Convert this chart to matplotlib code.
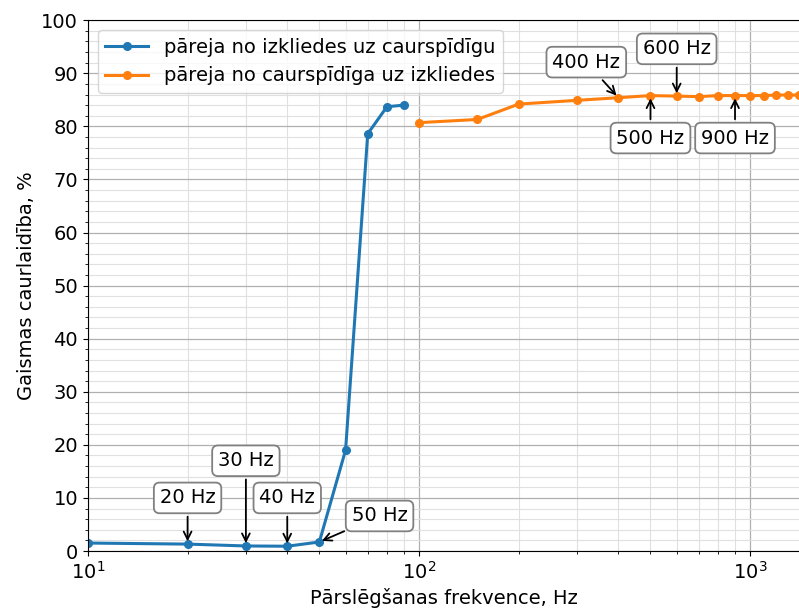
import matplotlib
matplotlib.use("Agg")
import matplotlib.pyplot as plt
from matplotlib.ticker import MultipleLocator

# Data
freq_blue = [10, 20, 30, 40, 50, 60, 70, 80, 90]
trans_blue = [1.5, 1.3, 0.95, 0.9, 1.7, 19.0, 78.6, 83.7, 84.0]
freq_orange = [100, 150, 200, 300, 400, 500, 600, 700, 800, 900, 1000, 1100, 1200, 1300, 1400]
trans_orange = [80.7, 81.3, 84.2, 84.9, 85.4, 85.8, 85.7, 85.6, 85.8, 85.8, 85.8, 85.8, 85.9, 85.9, 85.9]

label_blue = "pāreja no izkliedes uz caurspīdīgu"
label_orange = "pāreja no caurspīdīga uz izkliedes"
xlabel = "Pārslēgšanas frekvence, Hz"
ylabel = "Gaismas caurlaidība, %"

# annotations: (text, point x, point y, text x, text y)
notes = [
    ("20 Hz", 20, 1.3, 20, 10),
    ("30 Hz", 30, 0.95, 30, 17),
    ("40 Hz", 40, 0.9, 40, 10),
    ("50 Hz", 50, 1.7, 76, 6.6),
    ("400 Hz", 400, 85.4, 320, 92.1),
    ("600 Hz", 600, 85.7, 600, 94.6),
    ("500 Hz", 500, 85.8, 500, 77.8),
    ("900 Hz", 900, 85.8, 900, 77.8),
]

FS = 14
plt.rcParams['font.family'] = ['DejaVu Sans']
fig = plt.figure(figsize=(7.99, 6.14), dpi=100)
ax = fig.add_axes([0.110, 0.1026, 0.892, 0.8645])

ax.plot(freq_blue, trans_blue, '-o', color='#1f77b4', lw=2.2, ms=5.5, label=label_blue)
ax.plot(freq_orange, trans_orange, '-o', color='#ff7f0e', lw=2.2, ms=5.5, label=label_orange)

ax.set_xscale('log')
ax.set_xlim(10, 1420)
ax.set_ylim(0, 100)
ax.yaxis.set_major_locator(MultipleLocator(10))
ax.yaxis.set_minor_locator(MultipleLocator(2))
ax.grid(which='major', color='#b0b0b0', lw=0.9)
ax.grid(which='minor', color='#e0e0e0', lw=0.8)
ax.set_axisbelow(True)
ax.tick_params(labelsize=FS)
ax.set_xlabel(xlabel, fontsize=FS)
ax.set_ylabel(ylabel, fontsize=FS)

bbox = dict(boxstyle='round,pad=0.3', fc='white', ec='gray', lw=1.3)
for t, px, py, tx, ty in notes:
    ax.annotate(t, xy=(px, py), xytext=(tx, ty), ha='center', va='center',
                fontsize=FS, bbox=bbox,
                arrowprops=dict(arrowstyle='->', color='black', lw=1.3))

ax.legend(loc='upper left', fontsize=FS, handlelength=2.2, framealpha=0.8)

fig.savefig('out.png', dpi=100)
